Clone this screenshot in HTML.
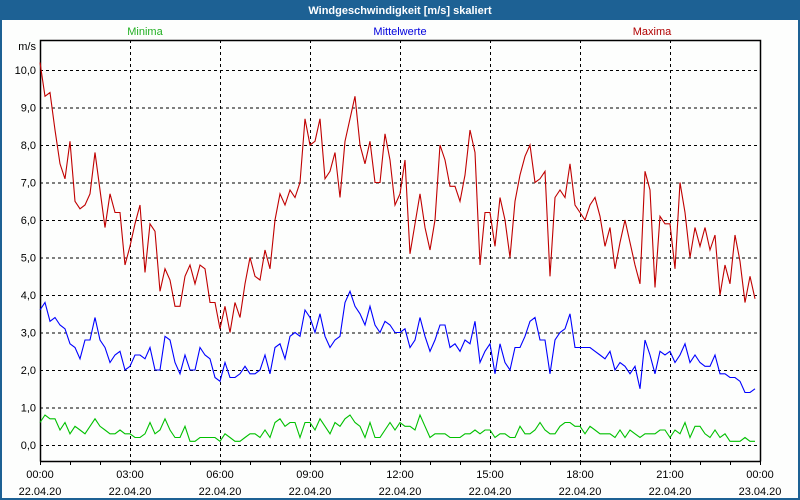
<!DOCTYPE html>
<html><head><meta charset="utf-8"><style>
body{margin:0;background:#fff;}
svg{display:block;font-family:"Liberation Sans",sans-serif;}
</style></head><body>
<svg id="chart" width="800" height="500" viewBox="0 0 800 500">
<rect x="0" y="0" width="800" height="500" fill="#1d6194"/>
<rect x="2" y="20" width="796" height="478" fill="#fdfefd"/>
<text x="400" y="14" fill="#fff" font-size="11" font-weight="bold" text-anchor="middle">Windgeschwindigkeit [m/s] skaliert</text>
<text x="145" y="35" fill="#22b022" font-size="11" text-anchor="middle">Minima</text>
<text x="400" y="35" fill="#0000dd" font-size="11" text-anchor="middle">Mittelwerte</text>
<text x="652" y="35" fill="#b00000" font-size="11" text-anchor="middle">Maxima</text>
<text x="36" y="50" fill="#000" font-size="11" text-anchor="end">m/s</text>
<g id="grid"></g>
<g id="axes"></g>
<g id="series"></g>
</svg>
<script>
const yTicks=[0,1,2,3,4,5,6,7,8,9,10];
const yTickLabels=["0,0","1,0","2,0","3,0","4,0","5,0","6,0","7,0","8,0","9,0","10,0"];
const xTickHours=[0,3,6,9,12,15,18,21,24];
const xTickTimes=["00:00","03:00","06:00","09:00","12:00","15:00","18:00","21:00","00:00"];
const xTickDates=["22.04.20","22.04.20","22.04.20","22.04.20","22.04.20","22.04.20","22.04.20","22.04.20","23.04.20"];
const maxima=[10.2,9.3,9.4,8.4,7.5,7.1,8.1,6.5,6.3,6.4,6.7,7.8,6.8,5.8,6.7,6.2,6.2,4.8,5.3,5.9,6.4,4.6,5.9,5.7,4.1,4.7,4.4,3.7,3.7,4.5,4.8,4.3,4.8,4.7,3.8,3.8,3.1,3.7,3.0,3.8,3.4,4.3,5.0,4.5,4.4,5.2,4.7,6.0,6.7,6.4,6.8,6.6,7.0,8.7,8.0,8.1,8.7,7.1,7.3,7.8,6.6,8.1,8.7,9.3,8.0,7.5,8.1,7.0,7.0,8.3,7.6,6.4,6.7,7.6,5.1,5.9,6.7,5.8,5.2,6.0,8.0,7.6,6.9,6.9,6.5,7.2,8.4,7.8,4.8,6.2,6.2,5.3,6.6,6.0,5.0,6.5,7.2,7.7,8.0,7.0,7.1,7.3,4.5,6.6,6.8,6.6,7.5,6.4,6.2,6.0,6.4,6.6,6.1,5.3,5.8,4.7,5.4,6.0,5.4,4.8,4.3,7.3,6.8,4.2,6.1,5.9,5.9,4.7,7.0,6.2,5.0,5.8,5.3,5.8,5.2,5.6,4.0,4.8,4.3,5.6,4.9,3.8,4.5,3.9];
const mittel=[3.6,3.8,3.3,3.4,3.2,3.1,2.7,2.6,2.3,2.8,2.8,3.4,2.8,2.6,2.2,2.4,2.5,2.0,2.1,2.4,2.4,2.3,2.6,2.0,2.0,2.9,2.8,2.2,1.9,2.4,2.0,2.0,2.6,2.4,2.3,1.8,1.7,2.2,1.8,1.8,1.9,2.1,1.9,1.9,2.0,2.4,1.9,2.6,2.7,2.3,2.9,3.0,2.9,3.6,3.4,3.0,3.5,2.9,2.6,2.8,2.9,3.8,4.1,3.7,3.5,3.2,3.7,3.2,3.0,3.3,3.2,3.0,3.0,3.1,2.6,2.8,3.4,2.9,2.5,2.8,3.2,3.2,2.6,2.7,2.5,2.8,2.7,3.3,2.2,2.5,2.7,1.9,2.7,2.2,2.0,2.6,2.6,2.9,3.3,3.4,2.8,2.8,1.9,2.8,3.0,3.1,3.5,2.6,2.6,2.6,2.6,2.5,2.4,2.3,2.5,2.0,2.2,2.1,1.9,2.1,1.5,2.8,2.4,1.9,2.5,2.4,2.5,2.2,2.4,2.7,2.2,2.4,2.2,2.1,2.1,2.4,1.9,1.9,1.8,1.8,1.7,1.4,1.4,1.5];
const minima=[0.6,0.8,0.7,0.7,0.4,0.6,0.3,0.5,0.4,0.3,0.5,0.7,0.5,0.4,0.3,0.3,0.4,0.3,0.3,0.2,0.2,0.3,0.6,0.3,0.4,0.7,0.4,0.2,0.2,0.5,0.1,0.1,0.2,0.2,0.2,0.2,0.1,0.3,0.2,0.1,0.1,0.2,0.3,0.3,0.2,0.4,0.2,0.6,0.7,0.5,0.6,0.6,0.2,0.6,0.6,0.4,0.7,0.5,0.3,0.6,0.5,0.7,0.8,0.6,0.5,0.2,0.6,0.2,0.2,0.4,0.6,0.4,0.6,0.5,0.5,0.4,0.8,0.5,0.2,0.3,0.3,0.3,0.2,0.2,0.2,0.3,0.3,0.4,0.3,0.4,0.4,0.2,0.3,0.3,0.2,0.2,0.5,0.3,0.3,0.4,0.6,0.4,0.3,0.3,0.5,0.6,0.6,0.5,0.5,0.3,0.5,0.4,0.3,0.3,0.3,0.2,0.4,0.2,0.4,0.3,0.2,0.3,0.3,0.3,0.4,0.4,0.2,0.4,0.3,0.6,0.2,0.5,0.5,0.3,0.2,0.4,0.2,0.3,0.1,0.1,0.1,0.2,0.1,0.1];

const NS="http://www.w3.org/2000/svg";
const L=40,R=760,T=40,B=461;
const yScale=v=>445-v*37.5;
const xHour=h=>L+(R-L)*h/24;
const xIdx=i=>L+i*5;
function mk(tag,attrs,parent){const e=document.createElementNS(NS,tag);for(const k in attrs)e.setAttribute(k,attrs[k]);parent.appendChild(e);return e;}
const grid=document.getElementById('grid'),axes=document.getElementById('axes'),series=document.getElementById('series');
yTicks.forEach((v,i)=>{
  const y=yScale(v)+0.5;
  const g=mk('line',{x1:L,x2:R,y1:y,y2:y,stroke:'#000','stroke-dasharray':'3,3','stroke-width':1},grid);
  
  
  const t=mk('text',{x:36,y:yScale(v)+4,'font-size':11,'text-anchor':'end',fill:'#000'},axes);
  t.textContent=yTickLabels[i];
  
  
});
xTickHours.forEach((h,i)=>{
  const x=Math.round(xHour(h))+0.5;
  if(h>0&&h<24){
    const g=mk('line',{x1:x,x2:x,y1:T,y2:B,stroke:'#000','stroke-dasharray':'3,3','stroke-width':1},grid);
    
    
  }
  const t1=mk('text',{x:xHour(h),y:478,'font-size':11,'text-anchor':'middle',fill:'#000'},axes);
  t1.textContent=xTickTimes[i];
  
  
  const t2=mk('text',{x:xHour(h),y:495,'font-size':11,'text-anchor':'middle',fill:'#000'},axes);
  t2.textContent=xTickDates[i];
  
  
});
for(let h=0;h<=24;h++){
  const x=Math.round(xHour(h))+0.5;
  const tk=mk('line',{x1:x,x2:x,y1:B,y2:B+4,stroke:'#000'},axes);
  
  
}
const frame=mk('path',{d:`M${L+0.5},${B+0.5} L${L+0.5},${T+0.5} L${R+0.5},${T+0.5} L${R+0.5},${B+0.5} M${L},${B+0.5} L${R+1},${B+0.5}`,fill:'none',stroke:'#000','stroke-width':1.5},axes);


function line(data,color,name){
  const d=data.map((v,i)=>(i?'L':'M')+xIdx(i)+','+yScale(v).toFixed(1)).join(' ');
  const p=mk('path',{d:d,fill:'none',stroke:color,'stroke-width':1.1},series);
  
  
}
line(minima,'#00c000','minima-line');
line(mittel,'#0000ff','mittelwerte-line');
line(maxima,'#c00000','maxima-line');
</script>
</body></html>
